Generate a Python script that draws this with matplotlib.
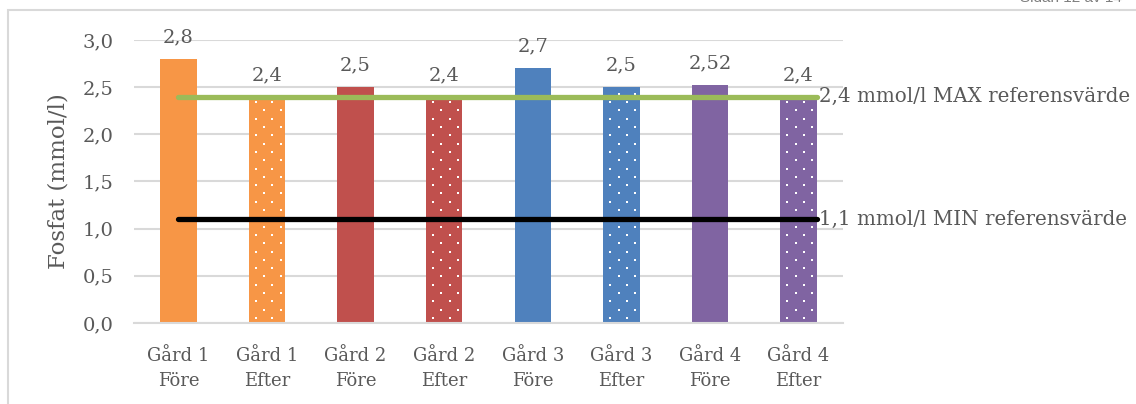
import numpy as np
import matplotlib
matplotlib.use("Agg")
import matplotlib.pyplot as plt
from matplotlib.patches import Rectangle

# --- data ---
categories = ["Gård 1\nFöre", "Gård 1\nEfter", "Gård 2\nFöre", "Gård 2\nEfter",
              "Gård 3\nFöre", "Gård 3\nEfter", "Gård 4\nFöre", "Gård 4\nEfter"]
fosfat = [2.8, 2.4, 2.5, 2.4, 2.7, 2.5, 2.52, 2.4]
value_labels = ["2,8", "2,4", "2,5", "2,4", "2,7", "2,5", "2,52", "2,4"]
ref_max = 2.4
ref_min = 1.1
ref_max_label = "2,4 mmol/l MAX referensvärde"
ref_min_label = "1,1 mmol/l MIN referensvärde"

# --- style ---
farm_colors = ["#F79646", "#F79646", "#C0504D", "#C0504D",
               "#4F81BD", "#4F81BD", "#8064A2", "#8064A2"]
dotted = [False, True, False, True, False, True, False, True]
text_color = "#595959"
grid_color = "#D9D9D9"

plt.rcParams["font.family"] = ["DejaVu Serif"]

fig = plt.figure(figsize=(11.36, 4.04), dpi=100)
ax = fig.add_axes([0.118, 0.2005, 0.624, 0.7005])
ax.set_xlim(-0.5, len(categories) - 0.5)
ax.set_ylim(0, 3.0)

x = np.arange(len(categories))
bar_w = 0.41
ax.bar(x, fosfat, width=bar_w, color=farm_colors, linewidth=0, zorder=2)

# white dot pattern on the "Efter" bars (staggered grid, in pixels)
step = 8.3
to_data = ax.transData.inverted()
for xi, v, d in zip(x, fosfat, dotted):
    if not d:
        continue
    x0, y0 = ax.transData.transform((xi - bar_w / 2, 0))
    x1, y1 = ax.transData.transform((xi + bar_w / 2, v))
    pts = []
    for k, py in enumerate(np.arange(y0 + 5, y1 - 2, step)):
        start = x0 + 7 + (step if k % 2 else 0)
        for px in np.arange(start, x1 - 2, 2 * step):
            pts.append((px, py))
    pts = to_data.transform(np.array(pts))
    ax.scatter(pts[:, 0], pts[:, 1], marker="s", s=2.4, color="white",
               linewidths=0, zorder=2.5)

# value labels above the bars
for xi, v, lab in zip(x, fosfat, value_labels):
    ax.annotate(lab, (xi, v), xytext=(0, 9), textcoords="offset points",
                ha="center", va="bottom", fontsize=14, color=text_color,
                annotation_clip=False)

# reference lines, running to the right edge of the last bar
line_x = np.r_[x, x[-1] + bar_w / 2]
ax.plot(line_x, [ref_max] * len(line_x), color="#9BBB59", lw=3.8,
        solid_capstyle="round", zorder=3, clip_on=False)
ax.plot(line_x, [ref_min] * len(line_x), color="black", lw=3.8,
        solid_capstyle="round", zorder=3, clip_on=False)
ax.annotate(ref_max_label, (line_x[-1], ref_max), xytext=(1.5, 0),
            textcoords="offset points", ha="left", va="center",
            fontsize=14.3, color=text_color, annotation_clip=False)
ax.annotate(ref_min_label, (line_x[-1], ref_min), xytext=(1.5, 0),
            textcoords="offset points", ha="left", va="center",
            fontsize=14.3, color=text_color, annotation_clip=False)

yticks = np.arange(0, 3.01, 0.5)
ax.set_yticks(yticks)
ax.set_yticklabels([f"{t:.1f}".replace(".", ",") for t in yticks])
ax.set_xticks(x)
ax.set_xticklabels(categories, linespacing=1.5)
ax.tick_params(axis="both", length=0, colors=text_color)
ax.tick_params(axis="y", pad=15, labelsize=14)
ax.tick_params(axis="x", pad=17, labelsize=13)

ax.grid(axis="y", color=grid_color, lw=1.5, zorder=0)
ax.set_axisbelow(True)
for side in ["top", "right", "left"]:
    ax.spines[side].set_visible(False)
ax.spines["bottom"].set_color(grid_color)
ax.spines["bottom"].set_linewidth(1.5)

ax.set_ylabel("Fosfat (mmol/l)", fontsize=16.5, color=text_color, labelpad=9)

# page frame and running header
fig.patches.append(Rectangle((8 / 1136, -0.1), 1.2, 1.1 - 10 / 404,
                             transform=fig.transFigure, fill=False,
                             edgecolor=grid_color, lw=1.5))
fig.text(1020 / 1136, 1 - 2 / 404, "Sidan 12 av 14", ha="left", va="baseline",
         fontsize=11, color="#7F7F7F", family="Liberation Sans")

fig.savefig("out.png", dpi=100)
